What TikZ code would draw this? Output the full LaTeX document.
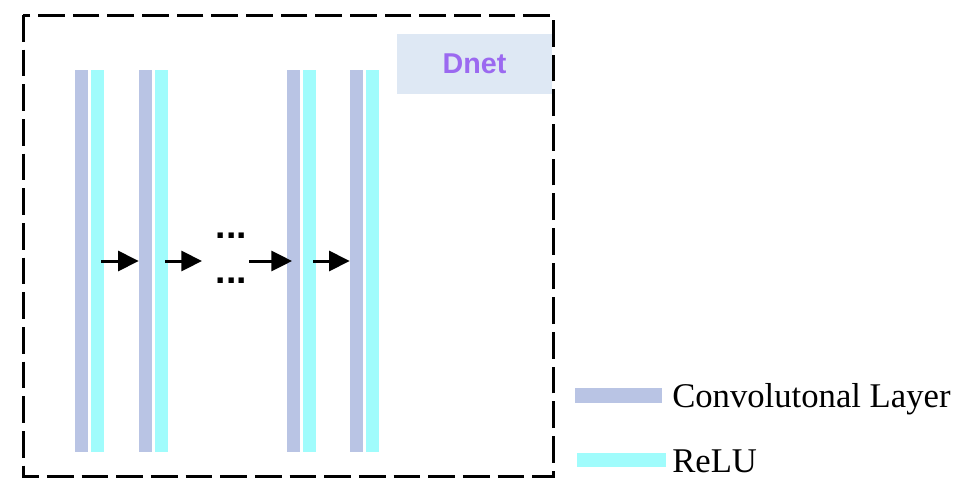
\documentclass[tikz,border=0pt]{standalone}
\usepackage{fontspec}
\setmainfont{Liberation Serif}
\newfontfamily\dnetfont{Liberation Sans}
\usetikzlibrary{arrows.meta}
\usetikzlibrary{positioning}

\definecolor{convcol}{RGB}{185,196,228}
\definecolor{relucol}{RGB}{160,252,252}
\definecolor{boxcol}{RGB}{222,232,244}
\definecolor{dnetcol}{RGB}{155,105,240}

\begin{document}
\begin{tikzpicture}[x=0.75pt, y=-0.75pt,
    convbar/.style={fill=convcol, inner sep=0pt, minimum width=9.4pt, minimum height=286.5pt},
    relubar/.style={fill=relucol, inner sep=0pt, minimum width=9.4pt, minimum height=286.5pt},
    arr/.style={line width=2.25pt, -{Triangle[length=15.5pt,width=15pt]}},
    dots/.style={font=\dnetfont\bfseries\fontsize{28}{30}\selectfont, inner sep=0pt, anchor=base}]
  \useasboundingbox (0,0) rectangle (970,500);

  % The layer pairs
  \foreach \i/\x in {1/75,2/139,3/287,4/350}{
    \node[convbar] (c\i) at (\x+6.25,261) {};
    \node[relubar] (r\i) at (\x+22.25,261) {};
  }

  % Dots for the skipped layers
  \node[dots] (dtop) at (231.5,238.5) {...};
  \node[dots] (dbot) at (231.5,283) {...};
  \coordinate (din) at (202,261);
  \coordinate (dout) at (249,261);

  % Arrows between the layers
  \draw[arr] ([xshift=-2pt]r1.east) -- (c2.west);
  \draw[arr] ([xshift=-2pt]r2.east) -- (din);
  \draw[arr] (dout) -- ([xshift=4pt]c3.west);
  \draw[arr] ([xshift=-2pt]r3.east) -- (c4.west);

  % The frame and its title
  \draw[line width=2.25pt, dash pattern=on 20pt off 6pt] (23,15) rectangle (553,476.5);
  \node[fill=boxcol, minimum width=116.25pt, minimum height=45pt, inner sep=0pt,
        font=\dnetfont\bfseries\fontsize{21.5}{24}\selectfont, text=dnetcol] (dnet) at (474.5,64) {Dnet};

  % Legend
  \node[fill=convcol, minimum width=65.25pt, minimum height=11.25pt, inner sep=0pt] (lconv) at (618.5,395.5) {};
  \node[anchor=base west, inner sep=0pt, font=\fontsize{26}{30}\selectfont] (tconv) at (672,407) {Convolutonal Layer};
  \node[fill=relucol, minimum width=66.75pt, minimum height=10.5pt, inner sep=0pt] (lrelu) at (621.5,460) {};
  \node[anchor=base west, inner sep=0pt, font=\fontsize{26}{30}\selectfont] (trelu) at (672,472) {ReLU};
\end{tikzpicture}
\end{document}
